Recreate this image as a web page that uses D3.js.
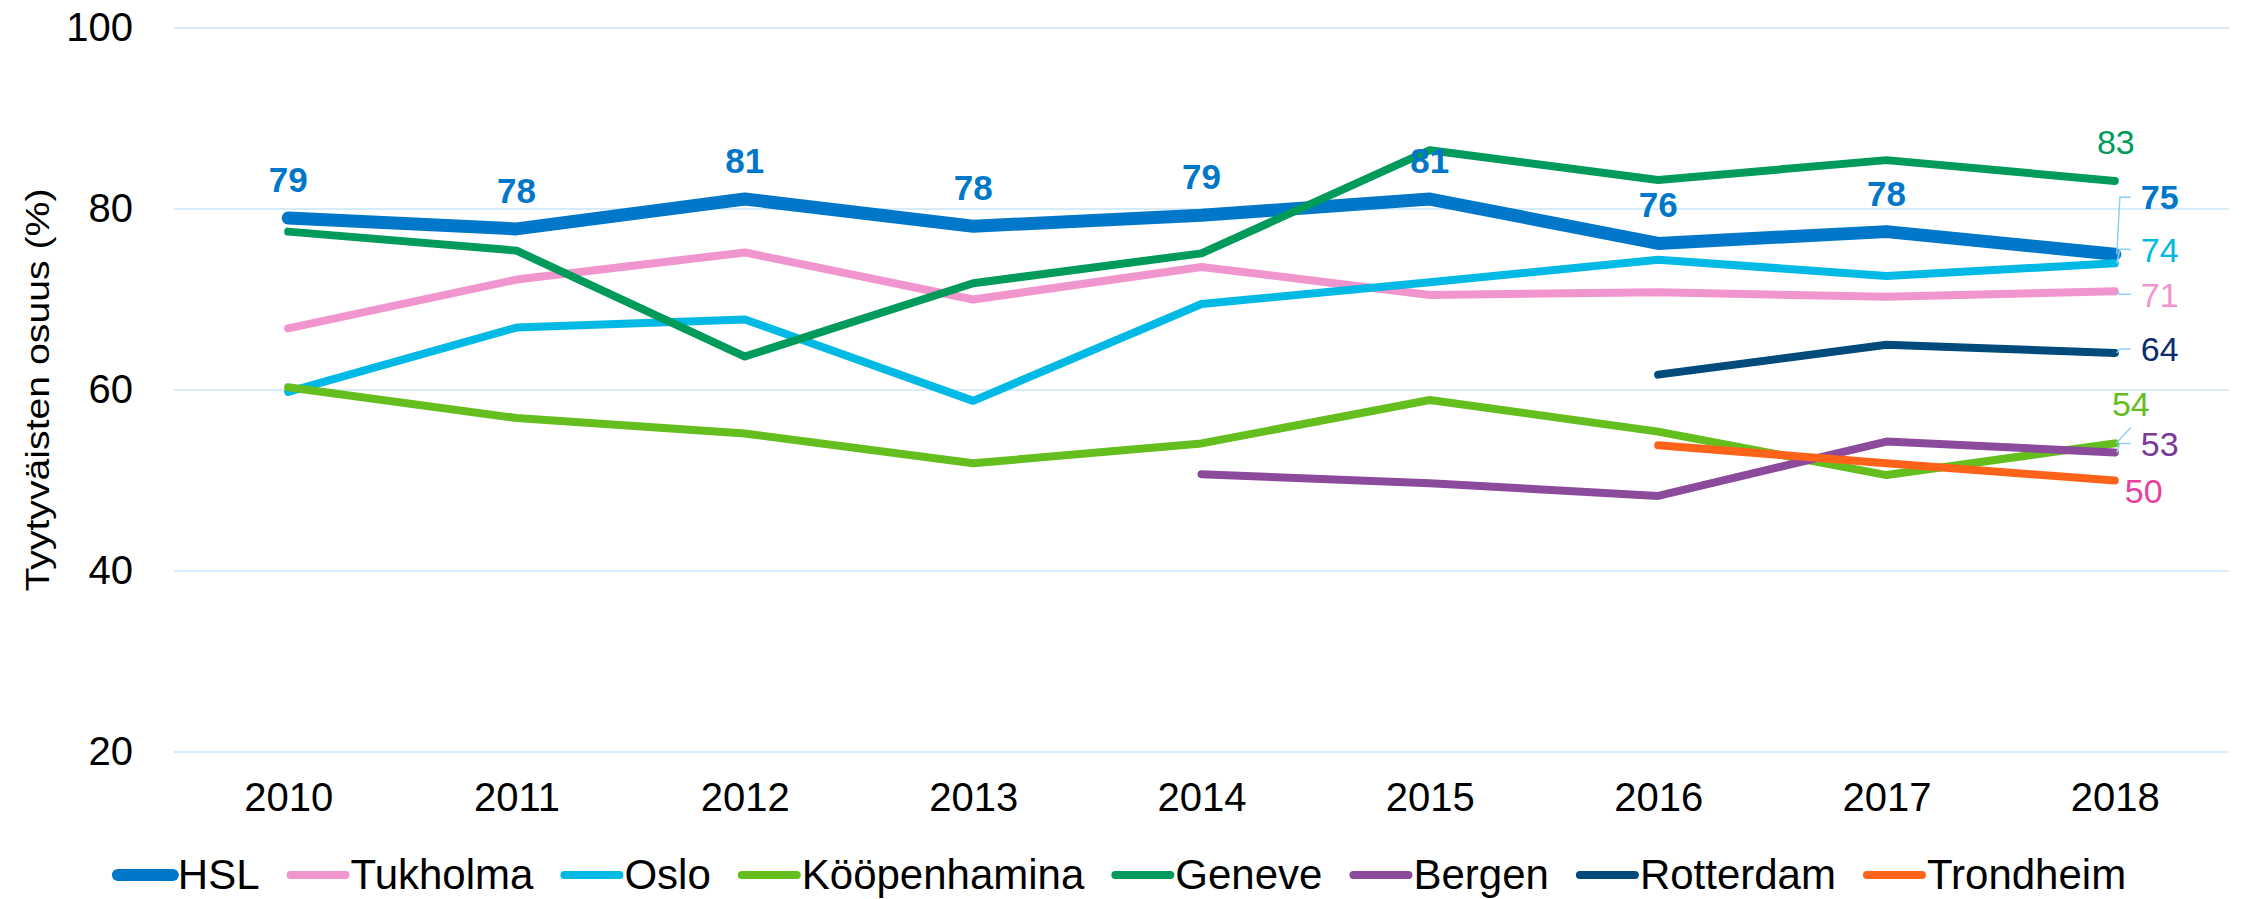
<!DOCTYPE html>
<html>
<head>
<meta charset="utf-8">
<script src="https://cdn.jsdelivr.net/npm/d3@7"></script>
<style>
  body { margin: 0; background: #fff; }
  text { font-family: "Liberation Sans", Arial, sans-serif; }
</style>
</head>
<body>
<div id="chart"></div>
<script>
// data
var years = ["2010", "2011", "2012", "2013", "2014", "2015", "2016", "2017", "2018"]
var seriesNames = ["HSL", "Tukholma", "Oslo", "Kööpenhamina", "Geneve", "Bergen", "Rotterdam", "Trondheim"]
var hsl = [79.0, 77.8, 81.1, 78.1, 79.3, 81.1, 76.2, 77.5, 75.0]
var tukholma = [66.8, 72.2, 75.2, 70.0, 73.6, 70.5, 70.8, 70.3, 70.9]
var oslo = [59.8, 66.9, 67.8, 58.8, 69.5, 71.9, 74.4, 72.6, 74.0]
var kopenhamina = [60.3, 56.9, 55.2, 51.9, 54.1, 58.9, 55.4, 50.6, 54.1]
var geneve = [77.5, 75.4, 63.7, 71.8, 75.1, 86.5, 83.2, 85.4, 83.1]
var bergen = [null, null, null, null, 50.7, 49.7, 48.3, 54.3, 53.1]
var rotterdam = [null, null, null, null, null, null, 61.7, 65.0, 64.1]
var trondheim = [null, null, null, null, null, null, 53.9, 51.9, 50.0]
var yTicks = [20, 40, 60, 80, 100]
var yTitle = "Tyytyväisten osuus (%)"

var allValues = [hsl, tukholma, oslo, kopenhamina, geneve, bergen, rotterdam, trondheim]

// styles per series (same order as seriesNames)
var colors = ["#0077c8", "#f095cd", "#00b9e4", "#64be1e", "#009a5b", "#8b4a9c", "#004a7c", "#ff6319"]
var widths = [13, 8, 8, 8, 8, 8, 8, 8]
var labelColors = ["#0077c8", "#f095cd", "#00b9e4", "#64be1e", "#009a5b", "#7a3a9a", "#0b2d6e", "#e93f9d"]
// placement of the 2018 label, pixels relative to the last point
var endLabel = [
  { dx: 26, dy: -57, anchor: "start", leader: "elbow", bold: true },
  { dx: 26, dy: 3, anchor: "start", leader: "elbow" },
  { dx: 26, dy: -14, anchor: "start", leader: "elbow" },
  { dx: 16, dy: -40, anchor: "middle", leader: "diag" },
  { dx: 1, dy: -39, anchor: "middle", leader: null },
  { dx: 26, dy: -9, anchor: "start", leader: "elbow" },
  { dx: 26, dy: -4, anchor: "start", leader: "elbow" },
  { dx: 10, dy: 10, anchor: "start", leader: null }
]

var width = 2241
var height = 899

var svg = d3.select("#chart")
  .append("svg")
  .attr("width", width)
  .attr("height", height)

var x = d3.scalePoint()
  .domain(years)
  .range([174, 2229])
  .padding(0.5)

var y = d3.scaleLinear()
  .domain([20, 100])
  .range([752, 28])

// gridlines
svg.append("g")
  .selectAll("line")
  .data(yTicks)
  .enter()
  .append("line")
  .attr("x1", 174)
  .attr("x2", 2229)
  .attr("y1", d => y(d))
  .attr("y2", d => y(d))
  .attr("stroke", "#d6ecfa")
  .attr("stroke-width", 2)

// y axis labels
var yAxis = svg.append("g")
  .attr("transform", "translate(133,0)")
  .call(d3.axisLeft(y).tickValues(yTicks).tickSize(0).tickPadding(0))
yAxis.select(".domain").remove()
yAxis.selectAll("text")
  .attr("font-size", 40)
  .attr("fill", "#000")
  .style("font-family", "'Liberation Sans', Arial, sans-serif")

// x axis labels
var xAxis = svg.append("g")
  .attr("transform", "translate(0,783)")
  .call(d3.axisBottom(x).tickSize(0).tickPadding(0))
xAxis.select(".domain").remove()
xAxis.selectAll("text")
  .attr("font-size", 40)
  .attr("fill", "#000")
  .attr("dy", "0.71em")
  .style("font-family", "'Liberation Sans', Arial, sans-serif")

// axis title
svg.append("text")
  .attr("transform", "translate(49," + (y(60)) + ") rotate(-90)")
  .attr("text-anchor", "middle")
  .attr("font-size", 34)
  .attr("textLength", 403)
  .attr("lengthAdjust", "spacingAndGlyphs")
  .text(yTitle)

// lines
var line = d3.line()
  .defined(d => d != null)
  .x((d, i) => x(years[i]))
  .y(d => y(d))

svg.append("g")
  .selectAll("path")
  .data(allValues)
  .enter()
  .append("path")
  .attr("d", d => line(d))
  .attr("fill", "none")
  .attr("stroke", (d, i) => colors[i])
  .attr("stroke-width", (d, i) => widths[i])
  .attr("stroke-linecap", "round")
  .attr("stroke-linejoin", "round")

// HSL labels above the points (last one is handled with the end labels)
svg.append("g")
  .selectAll("text")
  .data(hsl.slice(0, hsl.length - 1))
  .enter()
  .append("text")
  .attr("x", (d, i) => x(years[i]))
  .attr("y", d => y(d) - 26)
  .attr("text-anchor", "middle")
  .attr("font-size", 35)
  .attr("font-weight", "bold")
  .attr("fill", colors[0])
  .text(d => Math.round(d))

// end labels with leader lines
var last = years.length - 1
var ends = svg.append("g")
allValues.forEach((vals, i) => {
  var v = vals[last]
  var px = x(years[last])
  var py = y(v)
  var e = endLabel[i]
  var ly = py + e.dy
  if (e.leader == "elbow") {
    ends.append("polyline")
      .attr("points", [[px + 2, py], [px + 5, ly], [px + 16, ly]].join(" "))
      .attr("fill", "none")
      .attr("stroke", "#8fd0f5")
      .attr("stroke-width", 1.5)
  } else if (e.leader == "diag") {
    ends.append("line")
      .attr("x1", px + 1).attr("y1", py)
      .attr("x2", px + 16).attr("y2", ly + 24)
      .attr("stroke", "#8fd0f5")
      .attr("stroke-width", 1.5)
  }
  ends.append("text")
    .attr("x", px + e.dx)
    .attr("y", ly)
    .attr("dy", "0.36em")
    .attr("text-anchor", e.anchor)
    .attr("font-size", 34)
    .attr("font-weight", e.bold ? "bold" : "normal")
    .attr("fill", labelColors[i])
    .text(Math.round(v))
})

// legend, centred under the plot
var legend = svg.append("g")
var items = legend.selectAll("g")
  .data(seriesNames)
  .enter()
  .append("g")
items.append("line")
  .attr("x1", 0).attr("x2", 55)
  .attr("y1", 875).attr("y2", 875)
  .attr("stroke", (d, i) => colors[i])
  .attr("stroke-width", (d, i) => i == 0 ? 12 : 8)
  .attr("stroke-linecap", "round")
items.append("text")
  .attr("x", 60)
  .attr("y", 889)
  .attr("font-size", 42)
  .text(d => d)

var pos = 0
var offsets = []
items.each(function (d, i) {
  offsets.push(pos)
  pos += 60 + this.querySelector("text").getComputedTextLength() + 31
})
var total = pos - 31
var start = 1122 - total / 2
items.attr("transform", (d, i) => "translate(" + (start + offsets[i]) + ",0)")
</script>
</body>
</html>
